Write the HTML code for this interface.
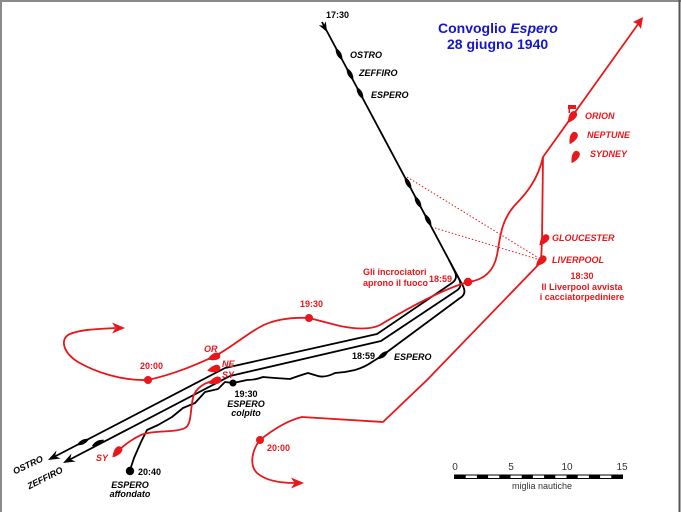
<!DOCTYPE html>
<html><head><meta charset="utf-8"><style>
html,body{margin:0;padding:0;background:#fff;}
svg{display:block;font-family:"Liberation Sans",Arial,sans-serif;}
</style></head><body>
<svg width="681" height="512" viewBox="0 0 681 512" xmlns="http://www.w3.org/2000/svg">
<rect x="0" y="0" width="681" height="512" fill="#fff"/>
<line x1="0" y1="1" x2="681" y2="1" stroke="#8a8a8a" stroke-width="2"/>
<line x1="1" y1="0" x2="1" y2="512" stroke="#8a8a8a" stroke-width="2"/>
<line x1="679.5" y1="0" x2="679.5" y2="512" stroke="#555" stroke-width="2"/>

<!-- dotted lines -->
<g stroke="#e8171b" stroke-width="1" stroke-dasharray="1.5,2" fill="none">
<line x1="407" y1="177" x2="537" y2="257"/>
<line x1="435" y1="228" x2="537" y2="259"/>
</g>

<!-- black convoy -->
<g stroke="#000" stroke-width="1.8" fill="none" stroke-linejoin="round">
<path d="M322,22 L449,260"/>
<path d="M449,260 L455,272 Q458,279 452,283 L377,334 L225,368 L52,458"/>
<path d="M449,260 L459,279 Q463,287 456,291 L381,341 L230,376 L67,461"/>
<path d="M449,260 L463,286 Q467,294 460,298 L383,355 L372,362 Q365,367 355,370 L345,372 L335,373 Q325,378 318,376 L308,373 Q298,376 290,379 L275,378 L263,377 Q255,380 247,380 L233,383 L225,382 L218,389 L205,392 L195,403 L183,408 L172,417 L158,425 L147,430 L141,442 L134,458 L130,470"/>
</g>
<g fill="#000">
<path d="M327,32 L318.8,25.1 L323.7,25.8 L325.8,21.3 Z"/>
<path d="M48,460 L56.5,450.5 L55.1,456.3 L60.7,458.5 Z"/>
<path d="M63,463 L71.5,453.5 L70.1,459.3 L75.7,461.5 Z"/>
<g transform="translate(339,54) rotate(61.8)"><path d="M-7,0 Q0,-4.5 7,0 Q0,4.5 -7,0Z"/></g>
<g transform="translate(350,74) rotate(61.8)"><path d="M-7,0 Q0,-4.5 7,0 Q0,4.5 -7,0Z"/></g>
<g transform="translate(360,93) rotate(61.8)"><path d="M-7,0 Q0,-4.5 7,0 Q0,4.5 -7,0Z"/></g>
<g transform="translate(408,183) rotate(61.8)"><path d="M-7,0 Q0,-4.5 7,0 Q0,4.5 -7,0Z"/></g>
<g transform="translate(418,202) rotate(61.8)"><path d="M-7,0 Q0,-4.5 7,0 Q0,4.5 -7,0Z"/></g>
<g transform="translate(428,220) rotate(61.8)"><path d="M-7,0 Q0,-4.5 7,0 Q0,4.5 -7,0Z"/></g>
<g transform="translate(83,442) rotate(-27.4)"><path d="M-7,0 Q0,-4.5 7,0 Q0,4.5 -7,0Z"/></g>
<g transform="translate(98,443) rotate(-27.4)"><path d="M-7,0 Q0,-4.5 7,0 Q0,4.5 -7,0Z"/></g>
<g transform="translate(383,355) rotate(-36.5)"><path d="M-7,0 Q0,-4.5 7,0 Q0,4.5 -7,0Z"/></g>
<circle cx="233" cy="383" r="3.5"/>
<circle cx="130" cy="471" r="4.2"/>
</g>

<!-- red courses -->
<g stroke="#e8171b" stroke-width="1.8" fill="none" stroke-linejoin="round">
<path d="M641,20 L543,157"/>
<path d="M543,157 C538,180 525,195 515,205 C500,222 500,240 497,255 C494,270 485,280 468,282 C440,290 405,310 380,325 C370,330 355,329 340,326 L309,318 C290,317 272,320 260,327 C245,335 228,350 213,357 C195,365 175,374 148,380 C122,381 95,372 78,362 C62,352 60,338 70,334 C82,329 100,329 115,328"/>
<path d="M543,157 L542,240 L541,262 L427,380 L383,422 L302,417 C285,421 270,432 260,440 C252,450 249,465 257,473 C266,481 280,483 295,483"/>
<path d="M217,380 C205,382 195,388 193,398 C190,410 192,424 185,428 C175,433 152,430 141,435 C130,440 122,447 117,452"/>
</g>
<g fill="#e8171b">
<path d="M643,17 L633,22 L637.5,24 L641,29 Z"/>
<path d="M125,328 L112,322.5 L115.5,328 L112,333.5 Z"/>
<path d="M304,483 L291,477.5 L294.5,483 L291,488.5 Z"/>
<circle cx="468" cy="282" r="4.2"/>
<circle cx="309" cy="318" r="4"/>
<circle cx="148" cy="380" r="4"/>
<circle cx="260" cy="440" r="4"/>
<rect x="568" y="105" width="8" height="4"/>
<rect x="568.5" y="108" width="1.5" height="5"/>
<g transform="translate(572,117) rotate(-55)"><path d="M-7,0 C-3,-3 1,-3.8 3,-3.5 A3.5,3.5 0 0 1 3,3.5 C1,3.8 -3,3 -7,0 Z"/></g>
<g transform="translate(573,138) rotate(-62)"><path d="M-7,0 C-3,-3 1,-3.8 3,-3.5 A3.5,3.5 0 0 1 3,3.5 C1,3.8 -3,3 -7,0 Z"/></g>
<g transform="translate(575,157) rotate(-62)"><path d="M-7,0 C-3,-3 1,-3.8 3,-3.5 A3.5,3.5 0 0 1 3,3.5 C1,3.8 -3,3 -7,0 Z"/></g>
<g transform="translate(544,240) rotate(-50)"><path d="M-7,0 C-3,-3 1,-3.8 3,-3.5 A3.5,3.5 0 0 1 3,3.5 C1,3.8 -3,3 -7,0 Z"/></g>
<g transform="translate(541,261) rotate(-45)"><path d="M-7,0 C-3,-3 1,-3.8 3,-3.5 A3.5,3.5 0 0 1 3,3.5 C1,3.8 -3,3 -7,0 Z"/></g>
<g transform="translate(214,357) rotate(-20)"><path d="M-7,0 C-3,-3 1,-3.8 3,-3.5 A3.5,3.5 0 0 1 3,3.5 C1,3.8 -3,3 -7,0 Z"/></g>
<g transform="translate(214,369) rotate(-15)"><path d="M-7,0 C-3,-3 1,-3.8 3,-3.5 A3.5,3.5 0 0 1 3,3.5 C1,3.8 -3,3 -7,0 Z"/></g>
<g transform="translate(215,381) rotate(-20)"><path d="M-7,0 C-3,-3 1,-3.8 3,-3.5 A3.5,3.5 0 0 1 3,3.5 C1,3.8 -3,3 -7,0 Z"/></g>
<g transform="translate(117,452) rotate(-50)"><path d="M-7,0 C-3,-3 1,-3.8 3,-3.5 A3.5,3.5 0 0 1 3,3.5 C1,3.8 -3,3 -7,0 Z"/></g>
</g>

<!-- title -->
<g fill="#1515d0" font-weight="bold" font-size="14">
<text x="438" y="33">Convoglio <tspan font-style="italic">Espero</tspan></text>
<text x="447" y="49">28 giugno 1940</text>
</g>

<!-- black labels -->
<g fill="#000" font-weight="bold" font-size="9">
<text x="326" y="18">17:30</text>
<text x="350" y="58" font-style="italic">OSTRO</text>
<text x="359" y="76" font-style="italic">ZEFFIRO</text>
<text x="371" y="98" font-style="italic">ESPERO</text>
<text x="352" y="359">18:59</text>
<text x="394" y="360" font-style="italic">ESPERO</text>
<text x="246" y="397" text-anchor="middle">19:30</text>
<text x="246" y="407" text-anchor="middle" font-style="italic">ESPERO</text>
<text x="246" y="416" text-anchor="middle" font-style="italic">colpito</text>
<text x="138" y="475">20:40</text>
<text x="130" y="488" text-anchor="middle" font-style="italic">ESPERO</text>
<text x="130" y="497" text-anchor="middle" font-style="italic">affondato</text>
<text x="28" y="468" text-anchor="middle" font-style="italic" transform="rotate(-25 28 465)">OSTRO</text>
<text x="45" y="481" text-anchor="middle" font-style="italic" transform="rotate(-27 45 478)">ZEFFIRO</text>
</g>

<!-- red labels -->
<g fill="#e8171b" font-weight="bold" font-size="9">
<text x="585" y="119" font-style="italic">ORION</text>
<text x="587" y="138" font-style="italic">NEPTUNE</text>
<text x="590" y="157" font-style="italic">SYDNEY</text>
<text x="552" y="241" font-style="italic">GLOUCESTER</text>
<text x="552" y="263" font-style="italic">LIVERPOOL</text>
<text x="582" y="279" text-anchor="middle">18:30</text>
<text x="582" y="290" text-anchor="middle">Il Liverpool avvista</text>
<text x="582" y="300" text-anchor="middle">i cacciatorpediniere</text>
<text x="363" y="275">Gli incrociatori</text>
<text x="363" y="286">aprono il fuoco</text>
<text x="429" y="282">18:59</text>
<text x="300" y="307">19:30</text>
<text x="140" y="369">20:00</text>
<text x="267" y="451">20:00</text>
<text x="204" y="352" font-style="italic">OR</text>
<text x="222" y="367" font-style="italic">NE</text>
<text x="222" y="378" font-style="italic">SY</text>
<text x="96" y="461" font-style="italic">SY</text>
</g>

<!-- scale bar -->
<g fill="#333" font-size="10">
<text x="455" y="470" text-anchor="middle">0</text>
<text x="511" y="470" text-anchor="middle">5</text>
<text x="567" y="470" text-anchor="middle">10</text>
<text x="622" y="470" text-anchor="middle">15</text>
<text x="542" y="489" text-anchor="middle" font-size="9">miglia nautiche</text>
</g>
<rect x="454.5" y="475" width="168" height="3.5" fill="#fff" stroke="#000" stroke-width="1"/>
<g fill="#000">
<rect x="454.5" y="475" width="11.2" height="3.5"/>
<rect x="476.9" y="475" width="11.2" height="3.5"/>
<rect x="499.3" y="475" width="11.2" height="3.5"/>
<rect x="521.7" y="475" width="11.2" height="3.5"/>
<rect x="544.1" y="475" width="11.2" height="3.5"/>
<rect x="566.5" y="475" width="11.2" height="3.5"/>
<rect x="588.9" y="475" width="11.2" height="3.5"/>
<rect x="611.3" y="475" width="11.2" height="3.5"/>
</g>
</svg>
</body></html>
